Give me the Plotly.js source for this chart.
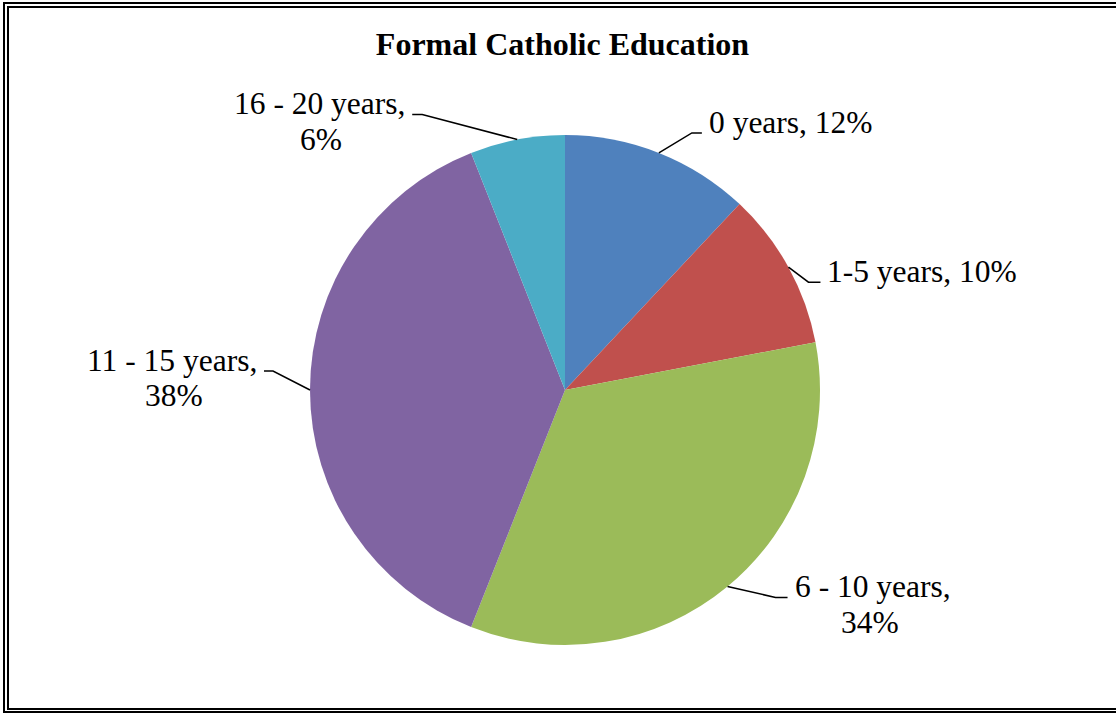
<!DOCTYPE html>
<html>
<head>
<meta charset="utf-8">
<script src="https://cdn.plot.ly/plotly-3.0.1.min.js"></script>
<style>
  html, body { margin:0; padding:0; background:#fff; overflow:hidden; }
  #wrap { position:relative; width:1116px; height:714px; overflow:hidden; }
  #chart { position:absolute; left:0; top:0; width:1116px; height:714px; }
  .frame { position:absolute; box-sizing:border-box; border:2px solid #000; pointer-events:none; }
</style>
</head>
<body>
<div id="wrap">
  <div id="chart"></div>
  <div class="frame" style="left:3px; top:2px; width:1140px; height:711px;"></div>
  <div class="frame" style="left:7px; top:6px; width:1130px; height:704px;"></div>
</div>
<script>
// ---- data ----
const chartTitle = 'Formal Catholic Education';
const categories = ['0 years', '1-5 years', '6 - 10 years', '11 - 15 years', '16 - 20 years'];
const percents = [12, 10, 34, 38, 6];
const sliceColors = ['#4F81BD', '#C0504D', '#9BBB59', '#8064A2', '#4BACC6'];

// ---- label styling (leader line geometry, px) ----
const labelWrap = [false, false, true, true, true];
const leaderElbow = [[33, -20], [20, 15], [48, 11], [-37, -19], [-95, -25]];
const leaderTail = [10, 12, 12, -9, -10];
const textGap = 5;
const fontFamily = '"Liberation Serif", "Times New Roman", Times, serif';
const labelSize = 31.5;
const lineStep = 35.5;

// ---- layout geometry ----
const W = 1116, H = 714;
const M = {l: 310, r: 296, t: 135, b: 69, pad: 0};
const plotW = W - M.l - M.r, plotH = H - M.t - M.b;
const cx = M.l + plotW / 2, cy = M.t + plotH / 2;
const R = Math.min(plotW, plotH) / 2;
const px2x = px => (px - M.l) / plotW;
const py2y = py => (H - M.b - py) / plotH;

const ctx = document.createElement('canvas').getContext('2d');
ctx.font = labelSize + 'px "Liberation Serif", serif';
const textW = s => ctx.measureText(s).width;

const total = percents.reduce((a, b) => a + b, 0);
const shapes = [];
const annotations = [];
let cum = 0;
percents.forEach((v, i) => {
  const th = 2 * Math.PI * (cum + v / 2) / total;
  cum += v;
  const ax = cx + R * Math.sin(th), ay = cy - R * Math.cos(th);
  const ex = ax + leaderElbow[i][0], ey = ay + leaderElbow[i][1];
  const tx = ex + leaderTail[i];
  shapes.push({
    type: 'path', xref: 'paper', yref: 'paper',
    path: `M ${px2x(ax)} ${py2y(ay)} L ${px2x(ex)} ${py2y(ey)} L ${px2x(tx)} ${py2y(ey)}`,
    line: {color: '#000', width: 1.5}
  });
  const lines = labelWrap[i] ? [categories[i] + ',', percents[i] + '%'] : [categories[i] + ', ' + percents[i] + '%'];
  const right = leaderTail[i] > 0;
  const x0 = right ? tx + textGap : tx - textGap;
  const w1 = textW(lines[0]);
  lines.forEach((s, k) => {
    const base = ey + k * lineStep;
    let x, anchor;
    if (k === 0) { x = x0; anchor = right ? 'left' : 'right'; }
    else { x = right ? x0 + w1 / 2 : x0 - w1 / 2; anchor = 'center'; }
    annotations.push({
      xref: 'paper', yref: 'paper', x: px2x(x), y: py2y(base - 0.3375 * labelSize),
      xanchor: anchor, yanchor: 'middle', showarrow: false, text: s,
      font: {family: fontFamily, size: labelSize, color: '#000'}
    });
  });
});

const data = [{
  type: 'pie',
  labels: categories,
  values: percents,
  sort: false,
  direction: 'clockwise',
  rotation: 0,
  textinfo: 'none',
  hoverinfo: 'label+percent',
  marker: {colors: sliceColors, line: {width: 0}},
  showlegend: false
}];

const layout = {
  width: W, height: H,
  margin: M,
  paper_bgcolor: 'rgba(0,0,0,0)',
  plot_bgcolor: 'rgba(0,0,0,0)',
  showlegend: false,
  title: {
    text: '<b>' + chartTitle + '</b>',
    font: {family: fontFamily, size: 32, color: '#000'},
    xref: 'paper', x: px2x(562.5), xanchor: 'center',
    yref: 'container', y: 1 - 44 / H, yanchor: 'middle'
  },
  shapes: shapes,
  annotations: annotations
};

Plotly.newPlot('chart', data, layout, {displayModeBar: false, staticPlot: true});
</script>
</body>
</html>
